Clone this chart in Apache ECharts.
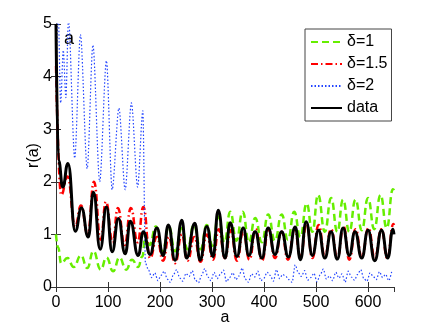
<!DOCTYPE html>
<html><head><meta charset="utf-8">
<script src="https://cdn.jsdelivr.net/npm/echarts@6/dist/echarts.min.js"></script>
<style>html,body{margin:0;padding:0;background:#fff}#c{width:436px;height:328px}</style>
</head><body><div id="c"></div>
<script>
const xTicks = [0, 100, 200, 300, 400, 500, 600];
const yTicks = [0, 1, 2, 3, 4, 5];
const seriesNames = ['δ=1', 'δ=1.5', 'δ=2', 'data'];

// δ=1 (green dashed): peaks/troughs
const greenX = [0,4,10,22,34,48,60,72,86,97,110,122,135,146,158,166,172,180,192,205,217,229,242,253,265,278,290,301,312,324,335,347,359,371,383,396,408,421,434,446,458,470,482,493,504,517,529,541,552,564,576,588,600,612,624,636,648,650];
const greenY = [1.0,0.75,0.45,0.55,0.38,0.6,0.36,0.68,0.33,0.56,0.3,0.56,0.33,0.52,0.38,0.58,1.0,0.8,1.15,0.68,1.15,0.68,1.12,0.72,1.18,0.72,1.18,0.78,1.34,0.85,1.43,0.88,1.43,0.85,1.31,0.85,1.38,0.88,1.38,0.9,1.43,0.95,1.59,1.05,1.75,1.05,1.69,1.05,1.66,1.05,1.66,1.08,1.69,1.1,1.75,1.12,1.86,1.84];

// δ=1.5 (red dash-dot)
const redX = [0,10,22,37,48,61,73,86,96,109,119,132,144,157,168,181,194,206,217,229,242,253,266,278,290,302,313,325,336,348,360,372,384,396,409,421,434,446,459,470,482,493,505,517,529,541,553,564,576,588,601,613,626,637,649,650];
const redY = [4.2,1.75,2.1,1.15,1.55,1.0,2.0,0.9,1.62,0.85,1.5,0.8,1.5,0.85,1.52,0.55,0.95,0.5,0.95,0.45,1.0,0.5,0.95,0.48,1.0,0.52,1.1,0.55,1.08,0.5,1.05,0.52,1.1,0.5,1.1,0.55,1.05,0.52,1.1,0.58,1.2,0.55,1.18,0.58,1.1,0.55,1.15,0.52,1.1,0.57,1.12,0.55,1.1,0.55,1.2,1.18];

// δ=2 (blue dotted): early large swings, then low noisy values
const blueX1 = [0,4,9,14,19,24,36,47,60,71,84,97,108,121,133,145,157,167,172];
const blueY1 = [3.8,5.3,3.5,4.5,3.6,5.1,2.45,4.8,2.25,4.6,2.0,4.3,1.85,3.4,1.85,3.5,1.9,3.35,0.45];
const blueStart = 178, blueStep = 6;
const blueY2 = [0.32,0.18,0.27,0.12,0.22,0.30,0.15,0.09,0.24,0.33,
  0.17,0.11,0.26,0.20,0.31,0.13,0.08,0.22,0.35,0.19,
  0.12,0.28,0.16,0.24,0.32,0.10,0.18,0.27,0.14,0.21,
  0.36,0.15,0.09,0.25,0.19,0.30,0.12,0.17,0.28,0.22,
  0.11,0.33,0.16,0.24,0.20,0.14,0.09,0.42,0.27,0.20,
  0.31,0.13,0.18,0.26,0.10,0.23,0.34,0.15,0.21,0.12,
  0.28,0.17,0.25,0.09,0.30,0.19,0.13,0.24,0.33,0.16,
  0.11,0.27,0.20,0.14,0.29,0.18,0.24,0.12,0.31];

// data (black solid)
const dataX = [0,5,13,23,37,49,62,72,85,97,108,120,133,143,158,168,181,194,206,216,229,242,251,267,277,290,302,312,325,335,348,360,371,383,396,408,421,434,447,460,470,481,493,505,517,529,541,552,564,575,588,600,613,626,638,648,650];
const dataY = [5.0,2.4,1.9,2.35,1.06,1.5,0.95,1.8,0.72,1.52,0.67,1.3,0.63,1.25,0.6,1.05,0.62,1.12,0.6,1.18,0.51,1.27,0.55,1.21,0.51,1.15,0.58,1.46,0.55,1.22,0.58,1.12,0.6,1.05,0.55,1.12,0.62,1.05,0.57,1.14,0.52,1.24,0.6,1.08,0.55,1.05,0.53,1.12,0.6,1.05,0.55,1.08,0.5,1.08,0.55,1.1,1.0];

const zip = (xs, ys) => xs.map((x, i) => [x, ys[i]]);
const blueData = zip(blueX1, blueY1).concat(blueY2.map((y, i) => [blueStart + i * blueStep, y]));

const FONT = 'Liberation Sans, Arial, Helvetica, sans-serif';
const axisColor = '#333';

const chart = echarts.init(document.getElementById('c'), null, {renderer: 'canvas'});
const baseX = {
  type: 'value', min: 0, max: 650, interval: 100,
  splitLine: {show: false},
  axisLine: {show: true, lineStyle: {color: axisColor, width: 1}},
  axisTick: {show: true, inside: true, length: 5, lineStyle: {color: axisColor}},
};
const baseY = {
  type: 'value', min: 0, max: 5, interval: 1,
  splitLine: {show: false},
  axisLine: {show: true, lineStyle: {color: axisColor, width: 1}},
  axisTick: {show: true, inside: true, length: 5, lineStyle: {color: axisColor}},
};
chart.setOption({
  animation: false,
  backgroundColor: '#fff',
  textStyle: {fontFamily: FONT},
  grid: {left: 56, right: 42, top: 24, bottom: 41, containLabel: false, outerBoundsMode: 'none'},
  xAxis: [
    Object.assign({}, baseX, {
      position: 'bottom',
      axisLabel: {fontSize: 16, color: '#000', margin: 8, fontFamily: FONT, showMaxLabel: false,
        formatter: v => xTicks.includes(v) ? String(v) : ''},
      name: 'a', nameLocation: 'middle', nameGap: 23, nameMoveOverlap: false,
      nameTextStyle: {fontSize: 16, color: '#000', fontFamily: FONT}
    }),
    Object.assign({}, baseX, {position: 'top', axisLabel: {show: false}})
  ],
  yAxis: [
    Object.assign({}, baseY, {
      position: 'left',
      axisLabel: {fontSize: 16, color: '#000', margin: 4, fontFamily: FONT,
        formatter: v => yTicks.includes(v) ? String(v) : ''},
      name: 'r(a)', nameLocation: 'middle', nameGap: 14, nameMoveOverlap: false,
      nameTextStyle: {fontSize: 16, color: '#000', fontFamily: FONT}
    }),
    Object.assign({}, baseY, {position: 'right', axisLabel: {show: false}})
  ],
  legend: {
    orient: 'vertical', left: 305, top: 29,
    data: seriesNames,
    padding: [5, 4, 5, 5],
    itemWidth: 31, itemHeight: 14, itemGap: 6,
    itemStyle: {opacity: 0},
    backgroundColor: '#fff', borderColor: '#444', borderWidth: 1,
    textStyle: {fontSize: 16, color: '#000', fontFamily: FONT, lineHeight: 16}
  },
  graphic: [{
    type: 'text', left: 64, top: 30,
    style: {text: 'a', fontSize: 18, fill: '#000', font: '18px ' + FONT}
  }],
  series: [
    {name: seriesNames[0], type: 'line', data: zip(greenX, greenY), symbol: 'none',
      smooth: 0.5, smoothMonotone: 'x',
      lineStyle: {color: '#66ee00', width: 2.5, type: [7, 4]}, itemStyle: {color: '#66ee00'}},
    {name: seriesNames[1], type: 'line', data: zip(redX, redY), symbol: 'none',
      smooth: 0.5, smoothMonotone: 'x',
      lineStyle: {color: '#ff0000', width: 2.5, type: [7, 3, 1.5, 3]}, itemStyle: {color: '#ff0000'}},
    {name: seriesNames[2], type: 'line', data: blueData, symbol: 'none',
      smooth: 0.3, smoothMonotone: 'x',
      lineStyle: {color: '#2244ff', width: 1.2, type: [1.5, 2]}, itemStyle: {color: '#2244ff'}},
    {name: seriesNames[3], type: 'line', data: zip(dataX, dataY), symbol: 'none',
      smooth: 0.5, smoothMonotone: 'x',
      lineStyle: {color: '#000', width: 3, type: 'solid'}, itemStyle: {color: '#000'}}
  ]
});
</script></body></html>
